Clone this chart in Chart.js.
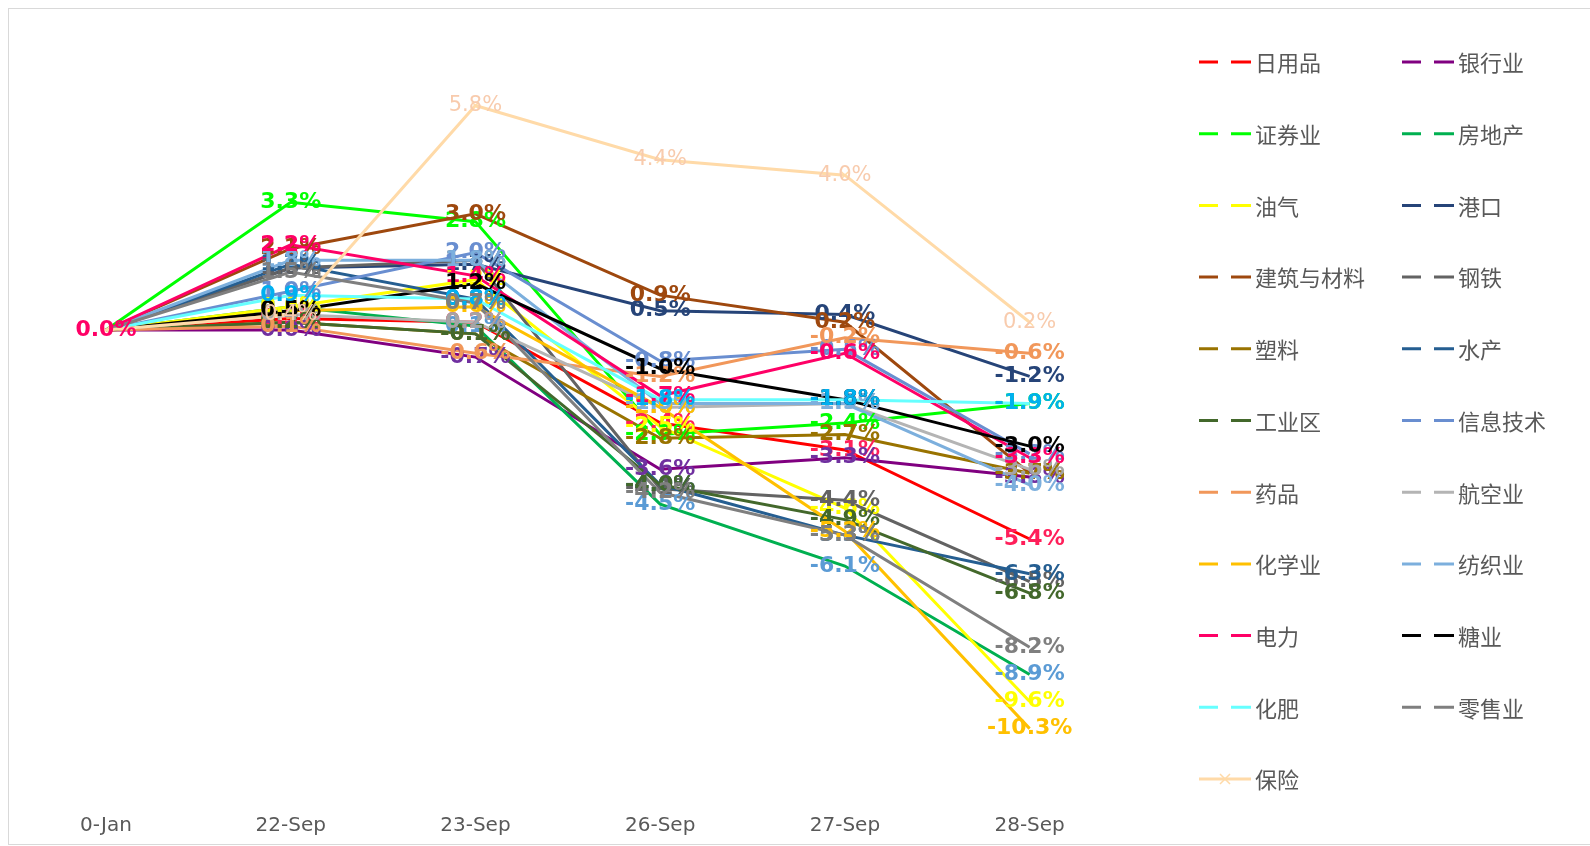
<!DOCTYPE html>
<html><head><meta charset="utf-8">
<script src="https://cdn.jsdelivr.net/npm/chart.js@4.4.1/dist/chart.umd.min.js"></script>
<style>html,body{margin:0;padding:0;background:#fff;}canvas{display:block}</style>
</head><body>
<canvas id="c" width="1590" height="846"></canvas>
<script>
// ---- data ----
const categories = ['0-Jan', '22-Sep', '23-Sep', '26-Sep', '27-Sep', '28-Sep'];
const seriesNames = ['日用品','银行业','证券业','房地产','油气','港口','建筑与材料','钢铁','塑料','水产','工业区','信息技术','药品','航空业','化学业','纺织业','电力','糖业','化肥','零售业','保险'];
const dailyGoods   = [0, 0.3, 0.2, -2.4, -3.1, -5.4];
const banking      = [0, 0.0, -0.7, -3.6, -3.3, -3.8];
const securities   = [0, 3.3, 2.8, -2.7, -2.4, -1.9];
const realEstate   = [0, 0.6, 0.1, -4.5, -6.1, -8.9];
const oilGas       = [0, 0.6, 1.3, -2.5, -4.6, -9.6];
const ports        = [0, 1.6, 1.7, 0.5, 0.4, -1.2];
const construction = [0, 2.1, 3.0, 0.9, 0.2, -3.7];
const steel        = [0, 1.6, 1.8, -4.1, -4.4, -6.5];
const plastics     = [0, 0.2, -0.1, -2.8, -2.7, -3.7];
const fisheries    = [0, 1.7, 0.8, -4.0, -5.3, -6.3];
const industrial   = [0, 0.2, -0.1, -4.0, -4.9, -6.8];
const infoTech     = [0, 1.0, 2.0, -0.8, -0.5, -3.2];
const pharma       = [0, 0.1, -0.6, -1.2, -0.2, -0.6];
const airlines     = [0, 0.4, 0.2, -2.0, -1.9, -3.6];
const chemicals    = [0, 0.5, 0.6, -2.0, -5.2, -10.3];
const textiles     = [0, 1.8, 1.8, -1.9, -1.9, -4.0];
const power        = [0, 2.2, 1.4, -1.7, -0.6, -3.3];
const sugar        = [0, 0.5, 1.2, -1.0, -1.8, -3.0];
const fertilizer   = [0, 0.9, 0.8, -1.8, -1.8, -1.9];
const retail       = [0, 1.5, 0.7, -4.2, -5.3, -8.2];
const insurance    = [0, 0.4, 5.8, 4.4, 4.0, 0.2];
const seriesValues = [dailyGoods, banking, securities, realEstate, oilGas, ports, construction, steel, plastics, fisheries, industrial, infoTech, pharma, airlines, chemicals, textiles, power, sugar, fertilizer, retail, insurance];

// ---- styles ----
const lineColors  = ['#FF0000','#800080','#00FF00','#00B050','#FFFF00','#264478','#9E480E','#636363','#997300','#255E91','#43682B','#698ED0','#F1975A','#B4B4B4','#FFC000','#7CAFDD','#FF0066','#000000','#66FFFF','#7F7F7F','#FFDAA8'];
const labelColors = ['#FF1F5A','#7030A0','#00FF00','#5B9BD5','#FFFF00','#264478','#9E480E','#636363','#997300','#255E91','#43682B','#698ED0','#F1975A','#A5A5A5','#FFC000','#7CAFDD','#FF0066','#000000','#00B0F0','#7F7F7F','#F8CBAD'];
const markerSeries = '保险';
const firstLabelSeries = '电力';
const N = seriesNames.length;

const frame = {
  id: 'frame',
  beforeDraw(chart) {
    const c = chart.ctx;
    c.save();
    c.fillStyle = '#fff';
    c.fillRect(0, 0, chart.width, chart.height);
    c.strokeStyle = '#D9D9D9';
    c.lineWidth = 1;
    c.strokeRect(8.5, 8.5, 1590, 836);
    c.restore();
  }
};

const dataLabels = {
  id: 'dataLabels',
  afterDatasetsDraw(chart) {
    const c = chart.ctx;
    c.save();
    c.textAlign = 'center';
    c.textBaseline = 'middle';
    for (let i = 0; i < N; i++) {
      const meta = chart.getDatasetMeta(i);
      const plain = seriesNames[i] === markerSeries;
      c.font = plain ? '21px "DejaVu Sans"' : 'bold 22px "DejaVu Sans"';
      c.fillStyle = labelColors[i];
      meta.data.forEach((pt, j) => {
        if (j === 0 && seriesNames[i] !== firstLabelSeries) return;
        const v = seriesValues[i][j];
        c.fillText(v.toFixed(1) + '%', pt.x, pt.y);
      });
    }
    c.restore();
  }
};

const legendBox = {
  id: 'legendBox',
  afterDraw(chart) {
    const c = chart.ctx;
    c.save();
    c.textBaseline = 'middle';
    c.textAlign = 'left';
    c.font = '22px "Noto Sans CJK SC"';
    for (let k = 0; k < N; k++) {
      const col = k % 2, row = Math.floor(k / 2);
      const x0 = col ? 1402 : 1199;
      const y = 62 + row * 71.7;
      c.strokeStyle = lineColors[k];
      c.lineWidth = 3;
      c.beginPath();
      if (seriesNames[k] === markerSeries) {
        c.moveTo(x0, y); c.lineTo(x0 + 52, y);
        c.stroke();
        c.lineWidth = 1.5;
        c.beginPath();
        c.moveTo(x0 + 21, y - 5); c.lineTo(x0 + 31, y + 5);
        c.moveTo(x0 + 21, y + 5); c.lineTo(x0 + 31, y - 5);
        c.stroke();
      } else {
        c.moveTo(x0, y); c.lineTo(x0 + 19, y);
        c.moveTo(x0 + 32, y); c.lineTo(x0 + 52, y);
        c.stroke();
      }
      c.fillStyle = '#595959';
      c.fillText(seriesNames[k], x0 + 56, y + 1);
    }
    c.restore();
  }
};

new Chart(document.getElementById('c'), {
  type: 'line',
  data: {
    labels: categories,
    datasets: seriesNames.map((name, i) => ({
      label: name,
      data: seriesValues[i],
      borderColor: lineColors[i],
      backgroundColor: lineColors[i],
      borderWidth: 3,
      tension: 0,
      fill: false,
      pointRadius: name === markerSeries ? 5 : 0,
      pointStyle: 'crossRot',
      pointBorderWidth: 1.5,
      order: N - i
    }))
  },
  options: {
    responsive: false,
    animation: false,
    devicePixelRatio: 1,
    layout: { padding: { left: 13.6, right: 468, top: 20.4, bottom: 0 } },
    plugins: { legend: { display: false }, tooltip: { enabled: false } },
    scales: {
      x: {
        offset: true,
        grid: { display: false, drawTicks: false },
        border: { display: false },
        ticks: { color: '#595959', font: { family: 'DejaVu Sans', size: 20 }, padding: 19, maxRotation: 0, autoSkip: false },
        afterFit: (s) => { s.height = 51.6; }
      },
      y: { display: false, min: -12, max: 8 }
    }
  },
  plugins: [frame, dataLabels, legendBox]
});
</script>
</body></html>
